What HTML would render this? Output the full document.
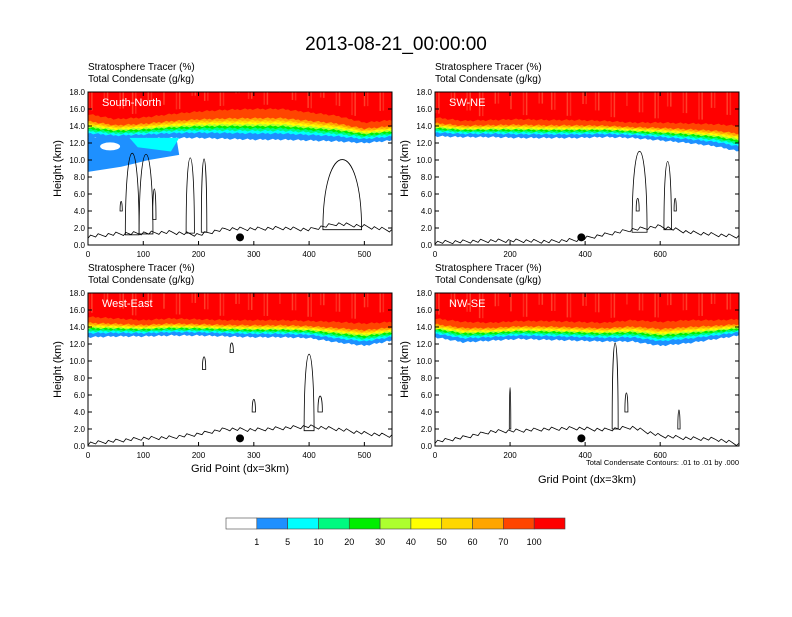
<!DOCTYPE html>
<html><head><meta charset="utf-8"><style>
body{margin:0;background:#fff;font-family:"Liberation Sans",sans-serif}
svg text{font-family:"Liberation Sans",sans-serif}
</style></head><body>
<svg id="chart" width="792" height="612" xmlns="http://www.w3.org/2000/svg">
<text x="396" y="50" text-anchor="middle" font-size="19">2013-08-21_00:00:00</text>
</svg>
<script>
const colors=['#ffffff','#1e90ff','#00ffff','#00fa80','#00ee00','#adff2f','#ffff00','#ffd700','#ffa500','#ff4500','#ff0000'];
const cbLabels=['1','5','10','20','30','40','50','60','70','100'];
const panelNames=['South-North','SW-NE','West-East','NW-SE'];
const xMaxes=[550,810,550,810];
const xTickVals=[[0,100,200,300,400,500],[0,200,400,600],[0,100,200,300,400,500],[0,200,400,600]];
const yTickVals=[0,2,4,6,8,10,12,14,16,18];
const sampleX=[[0,50,100,150,200,250,300,350,400,450,500,550],[0,75,150,225,300,375,450,525,600,675,750,810],[0,50,100,150,200,250,300,350,400,450,500,550],[0,75,150,225,300,375,450,525,600,675,750,810]];
const baseH=[[12.6,12.4,12.5,12.6,12.6,12.5,12.4,12.4,12.3,12.2,12.0,12.3],[12.8,12.7,12.7,12.6,12.6,12.6,12.7,12.6,12.3,12.0,11.6,11.0],[12.8,12.9,12.9,13.0,13.0,12.9,12.8,12.8,12.7,12.2,11.8,12.4],[12.8,12.2,12.4,12.6,12.5,12.4,12.3,12.3,11.8,12.1,12.6,13.0]];
const topH=[[15.4,14.8,15.0,15.4,15.7,15.9,16.0,16.0,15.6,15.2,14.4,14.7],[15.0,14.6,14.7,14.8,14.7,14.7,14.6,14.4,14.4,14.3,14.2,14.0],[15.2,15.0,14.8,15.0,14.9,14.8,14.8,14.8,14.7,14.6,14.4,14.6],[15.0,14.6,14.5,14.7,14.7,14.6,14.5,14.8,14.6,14.8,14.8,14.9]];
const terrain=[[1.0,1.3,1.4,1.5,1.2,1.9,1.9,2.0,1.8,2.5,2.2,1.7],[0.3,0.4,0.5,0.5,0.4,0.6,1.2,1.8,2.2,1.5,1.2,1.0],[0.3,0.6,0.9,1.0,1.4,2.0,1.9,2.1,2.3,2.0,1.5,1.2],[0.5,1.0,1.7,1.8,2.0,2.1,1.9,2.2,1.2,0.9,0.8,0.2]];
const loops=[[[80,25,1.2,14.0],[105,25,1.3,13.8],[185,15,1.4,13.2],[210,10,1.5,13.0],[460,70,1.8,12.8],[120,6,3,7.8],[60,4,4,5.5]],
[[545,40,1.5,14.2],[620,20,1.8,12.5],[540,8,4,6],[640,6,4,6]],
[[400,18,1.8,13.8],[420,8,4,6.5],[210,6,9,11],[260,6,11,12.5],[300,6,4,6]],
[[480,16,2,15.5],[510,8,4,7],[200,4,2,8.5],[650,6,2,5]]];
const dotX=[275,390,275,390];
const bandFrac=[0,0.2,0.29,0.37,0.44,0.5,0.56,0.62,0.7,1.0];
const NS='http://www.w3.org/2000/svg';
const svg=document.getElementById('chart');
function mk(t,a,p){const e=document.createElementNS(NS,t);for(const k in a)e.setAttribute(k,a[k]);(p||svg).appendChild(e);return e;}
const panels=[{x:88,y:92},{x:435,y:92},{x:88,y:293},{x:435,y:293}];
const W=304,H=153;
function interp(xs,ys,x){for(let i=0;i<xs.length-1;i++){if(x<=xs[i+1]){const f=(x-xs[i])/(xs[i+1]-xs[i]);return ys[i]+f*(ys[i+1]-ys[i]);}}return ys[ys.length-1];}
panels.forEach((p,pi)=>{
  const g=mk('g',{});
  
  
  const sx=v=>p.x+v/xMaxes[pi]*W, sy=v=>p.y+H-v/18*H;
  const t1=mk('text',{x:p.x,y:p.y-22,'font-size':10},g);t1.textContent='Stratosphere Tracer   (%)';
  
  const t2=mk('text',{x:p.x,y:p.y-10,'font-size':10},g);t2.textContent='Total Condensate   (g/kg)';
  
  const clip=mk('clipPath',{id:'c'+pi},g);mk('rect',{x:p.x,y:p.y,width:W,height:H},clip);
  const cg=mk('g',{'clip-path':'url(#c'+pi+')'},g);
  const xs=sampleX[pi];const N=120;
  mk('rect',{x:p.x,y:p.y,width:W,height:H,fill:'#fff'},cg);
  for(let b=1;b<=10;b++){
    let pts=[];
    for(let i=0;i<=N;i++){const xv=xMaxes[pi]*i/N;const bh=interp(xs,baseH[pi],xv),th=interp(xs,topH[pi],xv);const h=bh+(th-bh)*bandFrac[b-1]+((i*7+b*3)%5-2)*0.05;pts.push(sx(xv)+','+sy(h));}
    pts.push(sx(xMaxes[pi])+','+p.y);pts.push(p.x+','+p.y);
    const pg=mk('polygon',{points:pts.join(' '),fill:colors[b]},cg);
    
    if(b===1&&pi===0){const bl=mk('path',{d:`M${sx(0)},${sy(12.6)} L${sx(160)},${sy(12.6)} L${sx(165)},${sy(10.6)} L${sx(110)},${sy(10.0)} L${sx(60)},${sy(9.2)} L${sx(0)},${sy(8.6)}Z`,fill:colors[1]},cg);
      
      mk('ellipse',{cx:sx(40),cy:sy(11.6),rx:10,ry:4,fill:'#fff'},cg);
      mk('path',{d:`M${sx(75)},${sy(12.6)} L${sx(165)},${sy(12.6)} L${sx(150)},${sy(11)} L${sx(90)},${sy(11.5)}Z`,fill:colors[2]},cg);}
  }
  for(let i=0;i<40;i++){const xv=xMaxes[pi]*((i*37)%97)/97;const h=interp(xs,topH[pi],xv)+0.5;
    mk('rect',{x:sx(xv),y:p.y,width:1.5,height:sy(h)-p.y-(i%3)*6,fill:i%2?'#ff5a3c':'#ff3a2a',opacity:0.7},cg);}
  loops[pi].forEach(l=>{const[cx,w,y0,y1]=l;const d=`M${sx(cx-w/2)},${sy(y0)} C${sx(cx-w/2)},${sy(y1)} ${sx(cx+w/2)},${sy(y1)} ${sx(cx+w/2)},${sy(y0)} Z`;
    const e=mk('path',{d,fill:'none',stroke:'#000','stroke-width':0.8},cg);});
  let tp=[];for(let i=0;i<=N;i++){const xv=xMaxes[pi]*i/N;const v=interp(xs,terrain[pi],xv)+((i*5)%7-3)*0.07;tp.push(sx(xv)+','+sy(v));}
  const tl=mk('polyline',{points:tp.join(' '),fill:'none',stroke:'#000','stroke-width':0.8},cg);
  
  const dot=mk('circle',{cx:sx(dotX[pi]),cy:sy(0.9),r:4,fill:'#000'},g);
  
  const lab=mk('text',{x:p.x+14,y:p.y+14,'font-size':11,fill:'#fff'},g);lab.textContent=panelNames[pi];
  
  mk('rect',{x:p.x,y:p.y,width:W,height:H,fill:'none',stroke:'#000','stroke-width':1},g);
  yTickVals.forEach(v=>{mk('line',{x1:p.x,x2:p.x+4,y1:sy(v),y2:sy(v),stroke:'#000'},g);mk('line',{x1:p.x+W,x2:p.x+W-4,y1:sy(v),y2:sy(v),stroke:'#000'},g);
    const t=mk('text',{x:p.x-3,y:sy(v)+3,'font-size':8,'text-anchor':'end'},g);t.textContent=v.toFixed(1);
    });
  xTickVals[pi].forEach(v=>{mk('line',{x1:sx(v),x2:sx(v),y1:p.y+H,y2:p.y+H-4,stroke:'#000'},g);mk('line',{x1:sx(v),x2:sx(v),y1:p.y,y2:p.y+4,stroke:'#000'},g);
    const t=mk('text',{x:sx(v),y:p.y+H+12,'font-size':8,'text-anchor':'middle'},g);t.textContent=v;
    });
  const yt=mk('text',{x:0,y:0,'font-size':11,'text-anchor':'middle',transform:`translate(${p.x-27},${p.y+H/2}) rotate(-90)`},g);yt.textContent='Height (km)';
  
});
const xa1=mk('text',{x:240,y:472,'font-size':11,'text-anchor':'middle'});xa1.textContent='Grid Point (dx=3km)';

const xa2=mk('text',{x:587,y:483,'font-size':11,'text-anchor':'middle'});xa2.textContent='Grid Point (dx=3km)';

const ci=mk('text',{x:739,y:465,'font-size':7.5,'text-anchor':'end'});ci.textContent='Total Condensate Contours: .01 to .01 by .000';

const bw=(565-226)/11;
colors.forEach((c,i)=>{const r=mk('rect',{x:226+i*bw,y:518,width:bw,height:11,fill:c,stroke:'#444','stroke-width':0.6});
  });
cbLabels.forEach((l,i)=>{const t=mk('text',{x:226+(i+1)*bw,y:545,'font-size':9,'text-anchor':'middle'});t.textContent=l;
  });
</script>
</body></html>
